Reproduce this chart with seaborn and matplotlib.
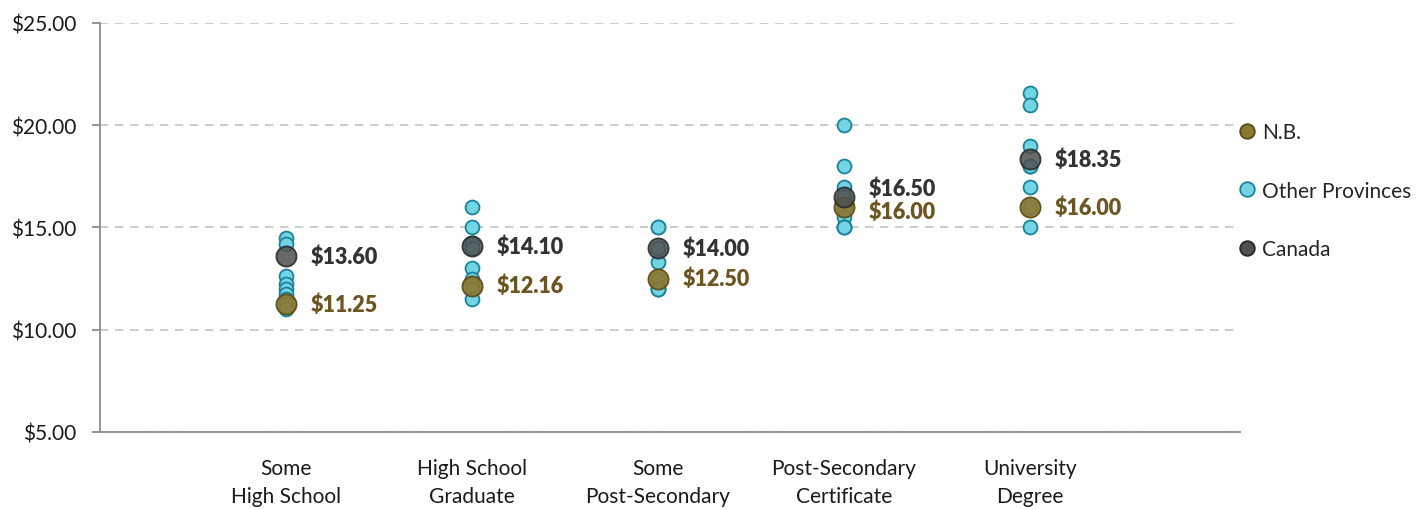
import pandas as pd
import seaborn as sns
import matplotlib.pyplot as plt
from matplotlib.lines import Line2D
from matplotlib.ticker import StrMethodFormatter

categories = ["Some\nHigh School", "High School\nGraduate", "Some\nPost-Secondary",
              "Post-Secondary\nCertificate", "University\nDegree"]

nb = [11.25, 12.16, 12.50, 16.00, 16.00]
canada = [13.60, 14.10, 14.00, 16.50, 18.35]

# other provinces, one list per education level
other_some_hs = [14.50, 14.20, 12.65, 12.25, 12.00, 11.75, 11.50, 11.25, 11.00]
other_hs_grad = [16.00, 15.00, 14.25, 14.00, 13.00, 12.50, 12.25, 12.00, 11.50]
other_some_ps = [15.00, 15.00, 14.00, 14.00, 13.30, 12.50, 12.00, 12.00, 12.00]
other_ps_cert = [20.00, 18.00, 17.00, 16.50, 16.00, 15.50, 15.00, 15.00, 15.00]
other_univ = [21.60, 21.00, 19.00, 18.00, 18.00, 18.00, 17.00, 16.00, 15.00]

other_lists = [other_some_hs, other_hs_grad, other_some_ps, other_ps_cert, other_univ]

rows = []
for cat, vals in zip(categories, other_lists):
    for v in vals:
        rows.append({"Education": cat, "Wage": v, "Group": "Other Provinces"})
other_df = pd.DataFrame(rows)
nb_df = pd.DataFrame({"Education": categories, "Wage": nb, "Group": "N.B."})
can_df = pd.DataFrame({"Education": categories, "Wage": canada, "Group": "Canada"})

sns.set_style("white")
plt.rcParams['font.family'] = ['Lato', 'DejaVu Sans']

c_other, e_other = '#72D4E4', '#1B8496'
c_nb, e_nb = '#8C7833', '#5A4A18'
c_can, e_can = '#4F4F4F', '#262626'
lbl_nb, lbl_can = '#6B5520', '#333333'

fig = plt.figure(figsize=(14.25, 5.1), dpi=100)
ax = fig.add_axes([0.0702, 0.151, 0.80, 0.802])

sns.stripplot(data=other_df, x="Education", y="Wage", order=categories, jitter=False,
              color=c_other, edgecolor=e_other, linewidth=1.3, size=10, ax=ax, zorder=3)
sns.stripplot(data=nb_df, x="Education", y="Wage", order=categories, jitter=False,
              color=c_nb, edgecolor=e_nb, linewidth=1.3, size=14.5, alpha=0.92, ax=ax, zorder=4)
sns.stripplot(data=can_df, x="Education", y="Wage", order=categories, jitter=False,
              color=c_can, edgecolor=e_can, linewidth=1.3, size=14.5, alpha=0.85, ax=ax, zorder=5)

for i in range(len(categories)):
    dy_can, dy_nb = 0, 0
    if canada[i] - nb[i] < 1:
        dy_can, dy_nb = 6, -3
    ax.annotate(f"${canada[i]:.2f}", (i, canada[i]), xytext=(18, dy_can), textcoords='offset points',
                va='center', ha='left', fontsize=15.5, fontweight='heavy', color=lbl_can)
    ax.annotate(f"${nb[i]:.2f}", (i, nb[i]), xytext=(18, dy_nb), textcoords='offset points',
                va='center', ha='left', fontsize=15.5, fontweight='heavy', color=lbl_nb)

ax.set_ylim(5, 25)
ax.set_yticks([5, 10, 15, 20, 25])
ax.yaxis.set_major_formatter(StrMethodFormatter('${x:.2f}'))
ax.set_xlim(-1.0, 5.13)
ax.set_xlabel("")
ax.set_ylabel("")
ax.yaxis.grid(True, linestyle=(0, (5, 4)), color='#C4C4C4', linewidth=1.2, zorder=0)
ax.set_axisbelow(True)

for s in ['top', 'right']:
    ax.spines[s].set_visible(False)
for s in ['left', 'bottom']:
    ax.spines[s].set_color('#8C8C8C')
    ax.spines[s].set_linewidth(1.3)

ax.tick_params(axis='y', left=True, length=6, width=1.3, color='#8C8C8C', pad=11,
               labelsize=15, labelcolor='#1A1A1A')
ax.tick_params(axis='x', bottom=False, length=0, pad=19, labelsize=15, labelcolor='#1A1A1A')
for t in ax.get_xticklabels():
    t.set_linespacing(1.5)

handles = [
    Line2D([], [], marker='o', linestyle='', markersize=10.5, markerfacecolor=c_nb,
           markeredgecolor=e_nb, markeredgewidth=1.3),
    Line2D([], [], marker='o', linestyle='', markersize=10.5, markerfacecolor=c_other,
           markeredgecolor=e_other, markeredgewidth=1.3),
    Line2D([], [], marker='o', linestyle='', markersize=10.5, markerfacecolor=c_can,
           markeredgecolor=e_can, markeredgewidth=1.3),
]
fig.legend(handles, ["N.B.", "Other Provinces", "Canada"], loc='center left',
           bbox_to_anchor=(0.862, 0.624), frameon=False, fontsize=15,
           labelspacing=1.85, handlelength=0.8, handletextpad=0.3, borderpad=0)

fig.savefig("out.png", dpi=100)
